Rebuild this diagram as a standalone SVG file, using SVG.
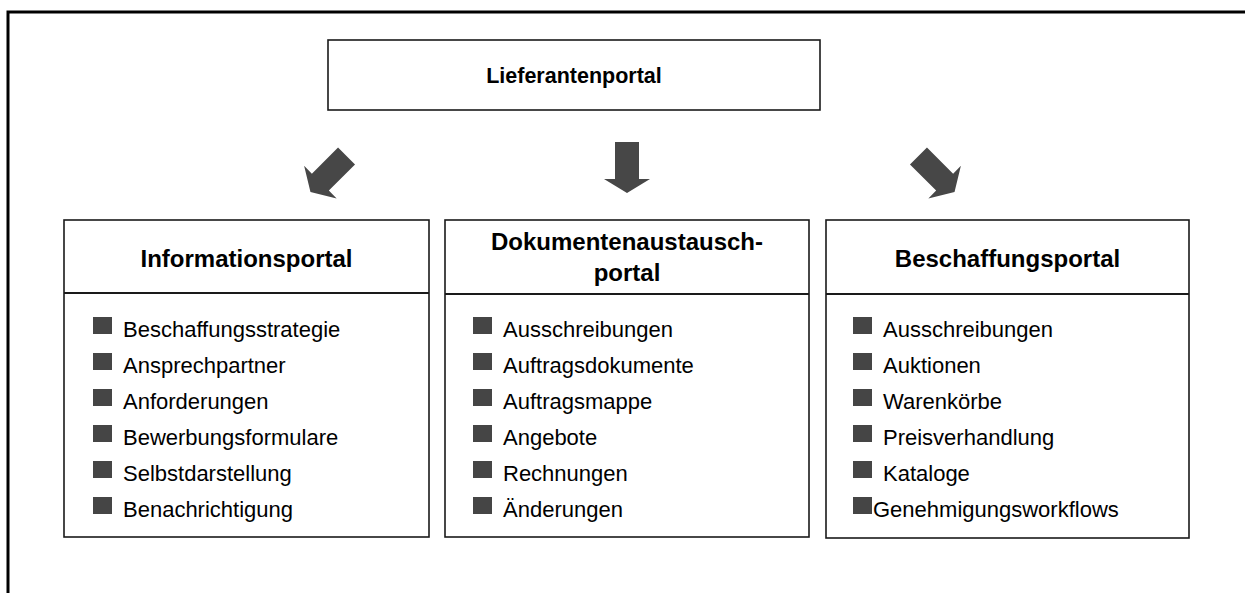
<svg xmlns="http://www.w3.org/2000/svg" width="1245" height="593" viewBox="0 0 1245 593">
  <style>
    .frame { fill: none; stroke: #000; stroke-width: 3; }
    .box { fill: #fff; stroke: #1a1a1a; stroke-width: 1.6; }
    .rule { stroke: #1a1a1a; stroke-width: 2; }
    .head { font-family: "Liberation Sans", Arial, sans-serif; font-weight: bold; font-size: 24px; fill: #000; text-anchor: middle; }
    .title { font-family: "Liberation Sans", Arial, sans-serif; font-weight: bold; font-size: 21.5px; fill: #000; text-anchor: middle; }
    .item { font-family: "Liberation Sans", Arial, sans-serif; font-size: 22px; fill: #000; }
    .bullet { fill: #454545; }
    .arrow { fill: #474747; }
  </style>
  <defs>
    <!-- squat block arrow pointing down, centred on the origin -->
    <path id="blockArrow" d="M-12,-25.5 H12 V11.5 H23 L0,25.5 L-23,11.5 H-12 Z"/>
    <rect id="sq" width="19" height="17"/>
  </defs>

  <rect width="1245" height="593" fill="#fff"/>

  <!-- outer frame, open towards the right and bottom edges -->
  <path class="frame" d="M8,600 V12 H1250"/>

  <g id="lieferantenportal">
    <rect class="box" x="328" y="40" width="492" height="70" stroke-width="2"/>
    <text class="title" x="574" y="83">Lieferantenportal</text>
  </g>

  <g id="connectors">
    <use href="#blockArrow" class="arrow" transform="translate(328.5,174) rotate(45)"/>
    <use href="#blockArrow" class="arrow" transform="translate(627,167.5)"/>
    <use href="#blockArrow" class="arrow" transform="translate(936.5,174) rotate(-45)"/>
  </g>

  <g id="informationsportal">
    <rect class="box" x="64" y="220" width="365" height="317"/>
    <line class="rule" x1="64" y1="293" x2="429" y2="293"/>
    <text class="head" x="246.5" y="267">Informationsportal</text>
    <g class="bullet">
      <use href="#sq" x="93" y="317"/>
      <use href="#sq" x="93" y="353"/>
      <use href="#sq" x="93" y="389"/>
      <use href="#sq" x="93" y="425"/>
      <use href="#sq" x="93" y="461"/>
      <use href="#sq" x="93" y="497"/>
    </g>
    <text class="item" x="123" y="337">Beschaffungsstrategie</text>
    <text class="item" x="123" y="373">Ansprechpartner</text>
    <text class="item" x="123" y="409">Anforderungen</text>
    <text class="item" x="123" y="445">Bewerbungsformulare</text>
    <text class="item" x="123" y="481">Selbstdarstellung</text>
    <text class="item" x="123" y="517">Benachrichtigung</text>
  </g>

  <g id="dokumentenaustauschportal">
    <rect class="box" x="445" y="220" width="364" height="317"/>
    <line class="rule" x1="445" y1="294" x2="809" y2="294"/>
    <text class="head" x="627" y="250">Dokumentenaustausch-</text>
    <text class="head" x="627" y="281">portal</text>
    <g class="bullet">
      <use href="#sq" x="473" y="317"/>
      <use href="#sq" x="473" y="353"/>
      <use href="#sq" x="473" y="389"/>
      <use href="#sq" x="473" y="425"/>
      <use href="#sq" x="473" y="461"/>
      <use href="#sq" x="473" y="497"/>
    </g>
    <text class="item" x="503" y="337">Ausschreibungen</text>
    <text class="item" x="503" y="373">Auftragsdokumente</text>
    <text class="item" x="503" y="409">Auftragsmappe</text>
    <text class="item" x="503" y="445">Angebote</text>
    <text class="item" x="503" y="481">Rechnungen</text>
    <text class="item" x="503" y="517">Änderungen</text>
  </g>

  <g id="beschaffungsportal">
    <rect class="box" x="826" y="220" width="363" height="318"/>
    <line class="rule" x1="826" y1="294" x2="1189" y2="294"/>
    <text class="head" x="1007.5" y="267">Beschaffungsportal</text>
    <g class="bullet">
      <use href="#sq" x="853" y="317"/>
      <use href="#sq" x="853" y="353"/>
      <use href="#sq" x="853" y="389"/>
      <use href="#sq" x="853" y="425"/>
      <use href="#sq" x="853" y="461"/>
      <use href="#sq" x="853" y="497"/>
    </g>
    <text class="item" x="883" y="337">Ausschreibungen</text>
    <text class="item" x="883" y="373">Auktionen</text>
    <text class="item" x="883" y="409">Warenkörbe</text>
    <text class="item" x="883" y="445">Preisverhandlung</text>
    <text class="item" x="883" y="481">Kataloge</text>
    <text class="item" x="873" y="517">Genehmigungsworkflows</text>
  </g>
</svg>
